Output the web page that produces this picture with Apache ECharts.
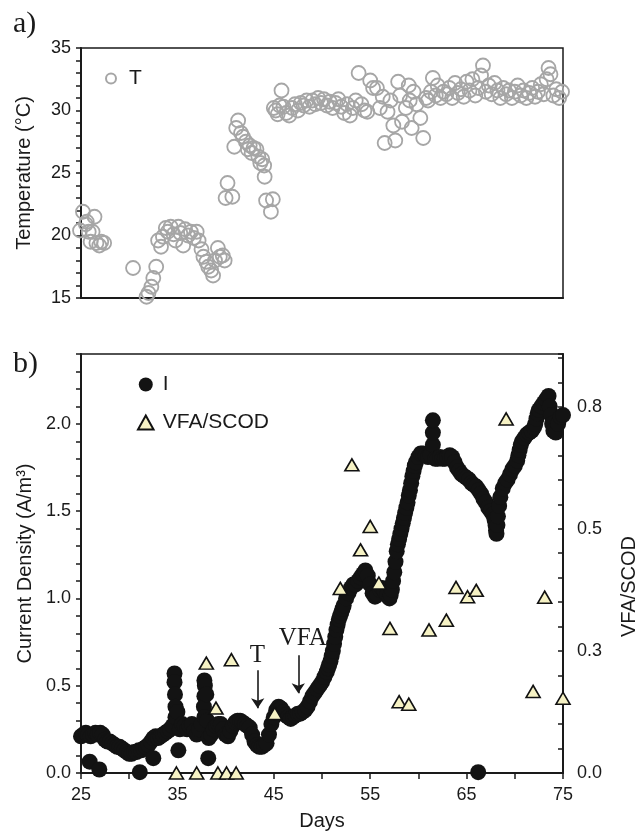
<!DOCTYPE html>
<html>
<head>
<meta charset="utf-8">
<script src="https://cdn.jsdelivr.net/npm/echarts@6/dist/echarts.min.js"></script>
<style>
html, body { margin: 0; padding: 0; background: #fff; }
#main { width: 638px; height: 837px; }
</style>
</head>
<body>
<div id="main"></div>
<script>
// temperature readings [day, °C]
var tempPoints = [
	[24.9,20.4],[25.2,21.9],[25.5,20.9],[25.6,21.1],[25.8,20.3],[26.0,19.5],[26.2,20.3],[26.4,21.5],
	[26.6,19.4],[26.9,19.2],[27.1,19.5],[27.4,19.4],
	[30.4,17.4],[31.8,15.1],[32.0,15.4],[32.3,15.9],[32.5,16.6],[32.8,17.5],[33.0,19.6],[33.3,19.1],
	[33.5,19.9],[33.8,20.6],[34.0,20.3],[34.3,20.7],[34.6,20.1],[34.8,19.6],[35.1,20.7],[35.3,20.2],
	[35.6,19.2],[35.8,20.5],[36.1,20.0],[36.4,20.3],[36.7,19.8],[37.0,20.3],[37.2,19.6],[37.5,18.9],
	[37.7,18.3],[38.0,17.9],[38.2,17.5],[38.5,17.2],[38.7,16.8],[38.9,18.0],[39.2,19.0],[39.4,18.3],
	[39.7,18.4],[39.9,18.0],
	[40.0,23.0],[40.2,24.2],[40.7,23.1],[40.9,27.1],[41.1,28.6],[41.3,29.2],[41.6,28.2],[41.8,27.9],
	[42.1,27.5],[42.3,26.9],[42.5,27.2],[42.7,26.6],[42.9,27.0],[43.2,26.9],[43.4,26.3],[43.6,25.8],
	[43.8,26.1],[44.0,25.6],[44.05,24.7],[44.2,22.8],[44.7,21.9],[44.9,22.9],
	[45.0,30.2],[45.2,30.0],[45.4,29.7],[45.6,30.4],[45.8,31.6],[46.0,30.3],[46.3,29.8],[46.6,29.6],
	[46.9,30.2],[47.2,30.5],[47.5,30.0],[47.8,30.6],[48.1,30.4],[48.4,30.8],[48.7,30.3],[49.0,30.8],
	[49.3,30.5],[49.6,31.0],[49.9,30.6],[50.2,30.9],[50.5,30.4],[50.8,30.7],[51.1,30.2],[51.4,30.6],
	[51.7,30.9],[52.0,30.3],[52.3,29.8],[52.6,30.5],[52.9,29.6],[53.2,30.2],[53.5,30.8],[53.8,33.0],
	[54.1,30.5],[54.4,30.0],[54.7,29.9],[55.0,32.4],[55.3,31.8],[55.7,31.8],[56.0,30.2],[56.3,31.1],
	[56.5,27.4],[56.8,29.9],[57.1,30.8],[57.4,28.8],[57.6,27.6],[57.9,32.3],[58.1,31.2],[58.3,29.1],
	[58.7,30.2],[59.0,32.0],[59.1,30.8],[59.3,28.6],[59.5,31.5],[59.8,30.5],[60.2,29.4],[60.5,27.8],
	[60.8,31.0],[61.0,30.8],[61.3,31.5],[61.5,32.6],[61.8,31.2],[62.0,32.0],[62.3,31.0],[62.6,31.5],
	[62.9,31.3],[63.2,31.8],[63.5,31.0],[63.8,32.2],[64.1,31.4],[64.4,31.7],[64.7,31.1],[65.0,32.3],
	[65.3,31.6],[65.6,32.5],[65.9,31.2],[66.2,31.8],[66.5,32.8],[66.7,33.6],[67.0,31.5],[67.3,32.0],
	[67.6,31.3],[67.9,32.2],[68.2,31.6],[68.5,31.0],[68.8,31.8],[69.1,31.3],[69.4,31.6],[69.7,31.0],
	[70.0,31.5],[70.3,32.0],[70.6,31.2],[70.9,31.6],[71.2,31.0],[71.5,31.4],[71.8,31.8],[72.1,31.1],
	[72.4,31.5],[72.7,32.1],[73.0,31.3],[73.3,32.5],[73.5,33.4],[73.7,32.9],[74.0,31.2],[74.3,31.7],
	[74.6,31.0],[74.9,31.5]
];

// current density [day, A/m3]
var currentPoints = [
	[25.0,0.21],[25.25,0.22],[25.5,0.23],[25.75,0.22],[26.0,0.21],[26.25,0.22],[26.5,0.23],[26.75,0.22],
	[27.0,0.23],[27.25,0.22],[27.5,0.19],[27.75,0.18],[28.0,0.18],[28.25,0.17],[28.5,0.16],[28.75,0.15],
	[29.0,0.15],[29.25,0.14],[29.5,0.13],[29.75,0.12],[30.0,0.11],[30.25,0.11],[30.5,0.12],[30.75,0.12],
	[31.0,0.13],[31.25,0.13],[31.5,0.14],[31.75,0.15],[32.0,0.16],[32.25,0.18],[32.5,0.20],[32.75,0.21],
	[33.0,0.20],[33.25,0.21],[33.5,0.22],[33.75,0.23],[34.0,0.24],[34.25,0.25],[34.5,0.27],
	[34.7,0.57],[34.7,0.52],[34.75,0.45],[34.8,0.38],[34.8,0.32],[35.0,0.35],[35.1,0.13],
	[35.25,0.25],[35.5,0.28],[35.75,0.27],[36.0,0.25],[36.25,0.27],[36.5,0.28],[36.75,0.24],[37.0,0.22],
	[37.25,0.25],[37.5,0.28],[37.8,0.53],[37.85,0.5],[37.8,0.44],[37.75,0.38],[37.8,0.32],[38.0,0.45],
	[38.1,0.3],[38.2,0.085],[38.25,0.2],[38.5,0.22],[38.75,0.25],[39.0,0.27],[39.25,0.28],[39.5,0.28],
	[39.75,0.25],[40.0,0.22],[40.25,0.21],[40.5,0.24],[40.75,0.27],[41.0,0.29],[41.25,0.30],[41.5,0.30],
	[41.75,0.29],[42.0,0.28],[42.25,0.27],[42.5,0.26],[42.75,0.22],[43.0,0.18],[43.25,0.16],[43.5,0.15],
	[43.75,0.15],[44.0,0.16],[44.25,0.17],[44.5,0.22],[44.75,0.28],[45.0,0.32],[45.25,0.36],[45.5,0.38],
	[45.75,0.37],[46.0,0.35],[46.25,0.33],[46.5,0.32],[46.75,0.31],[47.0,0.32],[47.25,0.33],[47.5,0.34],
	[47.75,0.34],[48.0,0.35],[48.25,0.36],[48.5,0.38],[48.75,0.41],[49.0,0.44],[49.25,0.46],[49.5,0.48],
	[49.75,0.50],[50.0,0.52],[50.25,0.55],[50.5,0.58],[50.625,0.60],[50.75,0.62],[50.875,0.64],[51.0,0.67],
	[51.125,0.70],[51.25,0.74],[51.375,0.78],[51.5,0.82],[51.625,0.85],[51.75,0.88],[51.875,0.90],[52.0,0.92],
	[52.125,0.94],[52.25,0.96],[52.5,1.0],[52.75,1.03],[53.0,1.06],[53.25,1.08],[53.5,1.08],
	[53.75,1.10],[54.0,1.12],[54.25,1.14],[54.5,1.16],[54.75,1.13],[55.0,1.08],[55.25,1.03],[55.5,1.01],
	[55.75,1.02],[56.0,1.05],[56.25,1.06],[56.5,1.04],[56.75,1.02],[57.0,1.00],[57.125,1.02],[57.25,1.05],
	[57.375,1.10],[57.5,1.15],[57.625,1.21],[57.75,1.27],[57.875,1.31],[58.0,1.34],[58.125,1.37],[58.25,1.40],
	[58.375,1.43],[58.5,1.46],[58.625,1.49],[58.75,1.52],[58.875,1.55],[59.0,1.59],[59.125,1.62],[59.25,1.66],
	[59.375,1.70],[59.5,1.73],[59.625,1.76],[59.75,1.78],[60.0,1.81],[60.25,1.83],[60.5,1.83],[60.75,1.82],
	[61.0,1.81],[61.25,1.82],[61.5,1.88],[61.5,1.95],[61.5,2.02],[61.75,1.80],[62.0,1.80],[62.25,1.81],
	[62.5,1.80],[62.75,1.80],[63.0,1.81],
	[63.25,1.82],[63.5,1.81],[63.75,1.78],[64.0,1.75],[64.25,1.73],[64.5,1.71],[64.75,1.70],[65.0,1.69],
	[65.25,1.68],[65.5,1.66],[65.75,1.65],[66.0,1.64],[66.25,1.62],[66.5,1.60],[66.75,1.57],[67.0,1.55],
	[67.25,1.52],[67.5,1.50],[67.75,1.48],[67.9,1.45],[68.0,1.42],[68.05,1.39],[68.1,1.37],[68.2,1.42],
	[68.25,1.47],[68.375,1.53],[68.5,1.58],[68.75,1.63],
	[69.0,1.66],[69.25,1.68],[69.5,1.71],[69.75,1.74],[70.0,1.76],[70.25,1.79],[70.375,1.82],[70.5,1.85],
	[70.625,1.88],[70.75,1.90],[71.0,1.92],[71.25,1.94],[71.5,1.95],[71.75,1.96],[72.0,1.98],[72.125,2.00],
	[72.25,2.03],[72.375,2.06],[72.5,2.08],[72.75,2.10],[73.0,2.12],[73.25,2.14],[73.5,2.16],[73.625,2.10],
	[73.75,2.05],[73.875,2.00],[74.0,1.96],[74.25,1.95],[74.5,2.00],[74.75,2.04],[75.0,2.05],
	[25.9,0.065],[26.9,0.02],[31.1,0.005],[32.5,0.085],[66.2,0.005]
];

// VFA/SCOD ratio [day, ratio]
var ratioPoints = [
	[34.9,0],[37.0,0],[39.2,0],[40.1,0],[41.1,0],
	[38.0,0.225],[39.0,0.133],[40.6,0.232],[45.1,0.122],
	[51.9,0.378],[53.1,0.631],[54.0,0.457],[55.0,0.505],[55.9,0.389],[57.05,0.296],[58.0,0.146],
	[59.0,0.141],[61.1,0.293],[62.9,0.313],[63.9,0.38],[65.1,0.361],[66.0,0.374],[69.1,0.725],
	[71.9,0.167],[73.1,0.36],[75.0,0.153]
];

// arrows and their labels
var arrowLines = [
	[[43.33, 0.589], [43.33, 0.371]],
	[[47.54, 0.674], [47.54, 0.457]]
];
var arrowTexts = [
	{ name: 'T', at: [43.3, 0.674] },
	{ name: 'VFA', at: [48.0, 0.771] }
];

var sans = 'Liberation Sans, Arial, Helvetica, sans-serif';
var serif = 'Liberation Serif, Times New Roman, serif';
var ink = '#1a1a1a';

function isStep(v, step){
	return Math.abs(v / step - Math.round(v / step)) < 1e-6;
}

var echart = echarts.init(document.getElementById('main'));

var option = {
	animation : false,
	backgroundColor : '#fff',
	title : [
		{ text : 'a)', left : 8, top : 4, textStyle : { fontFamily : serif, fontSize : 30, fontWeight : 'normal', color : ink } },
		{ text : 'b)', left : 8, top : 344, textStyle : { fontFamily : serif, fontSize : 30, fontWeight : 'normal', color : ink } }
	],
	legend : [
		{
			data : ['T'],
			left : 100, top : 63,
			itemWidth : 26, itemHeight : 10,
			textStyle : { fontFamily : sans, fontSize : 21, color : ink }
		},
		{
			data : ['I', { name : 'VFA/SCOD', icon : 'path://M5,0 L10,9 L0,9 Z' }],
			orient : 'vertical',
			left : 132, top : 369,
			itemWidth : 24, itemHeight : 14, itemGap : 17,
			textStyle : { fontFamily : sans, fontSize : 21, color : ink }
		}
	],
	grid : [
		{ left : 81, top : 48, width : 482, height : 250, show : true, borderColor : ink, borderWidth : 1.5, outerBoundsMode : 'none' },
		{ left : 81, top : 354, width : 482, height : 419, show : true, borderColor : ink, borderWidth : 1.5, outerBoundsMode : 'none' }
	],
	xAxis : [
		{
			type : 'value', gridIndex : 0, min : 25, max : 75,
			axisLine : { lineStyle : { color : ink, width : 2 } },
			axisTick : { show : false },
			axisLabel : { show : false },
			splitLine : { show : false }
		},
		{
			type : 'value', gridIndex : 1, min : 25, max : 75, interval : 5,
			name : 'Days', nameLocation : 'middle', nameGap : 38,
			nameTextStyle : { fontFamily : sans, fontSize : 20, color : ink },
			axisLine : { lineStyle : { color : ink, width : 2 } },
			axisTick : { length : 6, lineStyle : { color : ink, width : 1.5 } },
			axisLabel : {
				margin : 13, fontFamily : sans, fontSize : 18, color : ink,
				formatter : function(v){ return isStep(v - 25, 10) ? String(v) : ''; }
			},
			splitLine : { show : false }
		}
	],
	yAxis : [
		{
			type : 'value', gridIndex : 0, min : 15, max : 35, interval : 1,
			name : 'Temperature (°C)', nameLocation : 'middle', nameGap : 47,
			nameTextStyle : { fontFamily : sans, fontSize : 20, color : ink },
			axisLine : { show : true, lineStyle : { color : ink, width : 2 } },
			axisTick : { length : 5, lineStyle : { color : ink, width : 1.5 } },
			axisLabel : {
				margin : 10, fontFamily : sans, fontSize : 18, color : ink,
				formatter : function(v){ return isStep(v, 5) ? String(v) : ''; }
			},
			splitLine : { show : false }
		},
		{
			type : 'value', gridIndex : 1, min : 0, max : 2.4, interval : 0.1,
			name : 'Current Density (A/m³)', nameLocation : 'middle', nameGap : 38,
			nameTextStyle : { fontFamily : sans, fontSize : 20, color : ink },
			axisLine : { show : true, lineStyle : { color : ink, width : 2 } },
			axisTick : { length : 5, lineStyle : { color : ink, width : 1.5 } },
			axisLabel : {
				margin : 10, fontFamily : sans, fontSize : 18, color : ink,
				formatter : function(v){ return isStep(v, 0.5) ? v.toFixed(1) : ''; }
			},
			splitLine : { show : false }
		},
		{
			type : 'value', gridIndex : 1, position : 'right', min : 0, max : 0.858, interval : 0.05,
			name : 'VFA/SCOD', nameLocation : 'middle', nameGap : 56, nameRotate : 90,
			nameTextStyle : { fontFamily : sans, fontSize : 20, color : ink, padding : [0, 46, 0, 0] },
			axisLine : { show : true, lineStyle : { color : ink, width : 2 } },
			axisTick : { inside : true, length : 5, lineStyle : { color : ink, width : 1.5 } },
			axisLabel : {
				margin : 14, fontFamily : sans, fontSize : 18, color : ink,
				formatter : function(v){ return isStep(v, 0.25) ? v.toFixed(1) : ''; }
			},
			splitLine : { show : false }
		}
	],
	series : [
		{
			name : 'T', type : 'scatter', xAxisIndex : 0, yAxisIndex : 0,
			clip : false,
			symbol : 'circle', symbolSize : 14,
			itemStyle : { color : 'rgba(0,0,0,0)', borderColor : '#a6a6a6', borderWidth : 1.8, opacity : 1 },
			data : tempPoints
		},
		{
			name : 'I', type : 'scatter', xAxisIndex : 1, yAxisIndex : 1,
			clip : false,
			symbol : 'circle', symbolSize : 16,
			itemStyle : { color : '#131313', opacity : 1 },
			data : currentPoints,
			markLine : {
				silent : true,
				symbol : ['none', 'arrow'],
				symbolSize : 10,
				label : { show : false },
				lineStyle : { color : ink, width : 1.6, type : 'solid' },
				data : arrowLines.map(function(l){
					return [{ coord : l[0] }, { coord : l[1] }];
				})
			},
			markPoint : {
				silent : true,
				symbol : 'rect', symbolSize : 1,
				itemStyle : { color : 'rgba(0,0,0,0)' },
				label : { show : true, position : 'inside', fontFamily : serif, fontSize : 25, color : ink },
				data : arrowTexts.map(function(t){
					return { name : t.name, coord : t.at, label : { formatter : t.name } };
				})
			}
		},
		{
			name : 'VFA/SCOD', type : 'scatter', xAxisIndex : 1, yAxisIndex : 2,
			clip : false, z : 3,
			symbol : 'triangle', symbolSize : [14, 12],
			itemStyle : { color : '#f6f2c4', borderColor : '#111', borderWidth : 1.6, opacity : 1 },
			data : ratioPoints
		}
	]
};

echart.setOption(option);
</script>
</body>
</html>
